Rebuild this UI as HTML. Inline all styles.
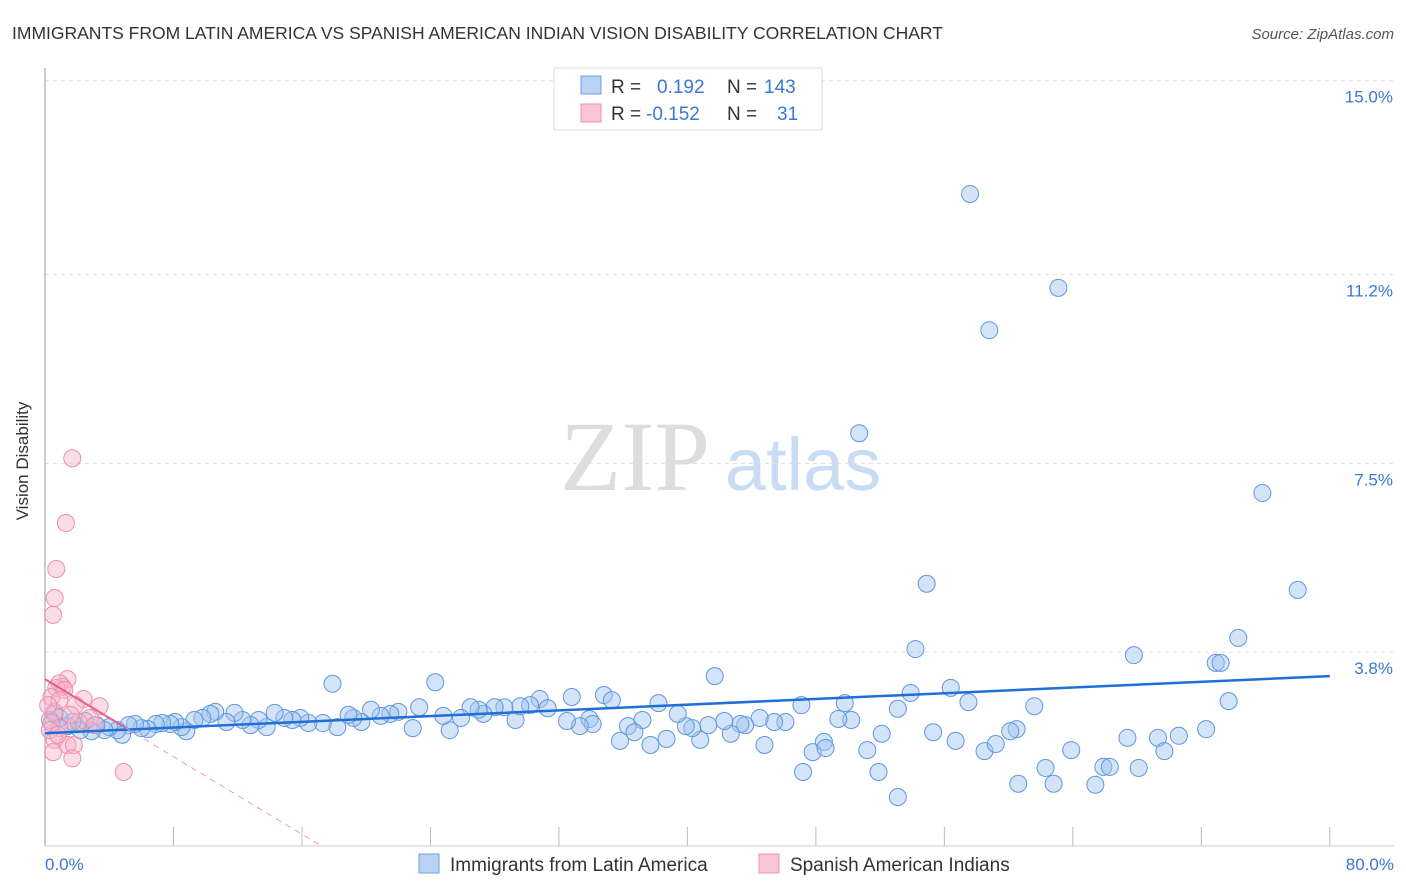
<!DOCTYPE html>
<html><head><meta charset="utf-8"><style>
body{margin:0;background:#fff;font-family:"Liberation Sans",sans-serif;}
svg{display:block}
</style></head><body>
<svg width="1406" height="892" xmlns="http://www.w3.org/2000/svg">
<text x="12" y="39" font-size="17.5" fill="#333">IMMIGRANTS FROM LATIN AMERICA VS SPANISH AMERICAN INDIAN VISION DISABILITY CORRELATION CHART</text>
<text x="1394" y="39" font-size="15" fill="#555" font-style="italic" text-anchor="end">Source: ZipAtlas.com</text>
<g>
<text x="635" y="490" font-size="100" font-family="Liberation Serif,serif" fill="#ddd" text-anchor="middle">ZIP</text>
<text x="803" y="490" font-size="74" fill="#c9dcf3" text-anchor="middle">atlas</text>
</g>
<g id="grid"></g>
<line x1="45" y1="68" x2="45" y2="846" stroke="#999" stroke-width="1"/>
<line x1="45" y1="846" x2="1394" y2="846" stroke="#ccc" stroke-width="1"/>
<text x="22" y="455" font-size="17" fill="#333" text-anchor="middle" transform="rotate(-90 28 455)">Vision Disability</text>
<text x="45" y="870" font-size="17" fill="#3a78d4">0.0%</text>
<text x="1394" y="870" font-size="17" fill="#3a78d4" text-anchor="end">80.0%</text>
<g id="pts"></g>
<g id="trend"></g>
<g>
<rect x="554" y="68" width="268" height="62" fill="#fff" stroke="#ddd"/>
<rect x="581" y="76" width="20" height="18" fill="#b9d3f4" stroke="#6fa0e0"/>
<rect x="581" y="104" width="20" height="18" fill="#f9c6d5" stroke="#eb93ae"/>
<text x="611" y="93" font-size="19" fill="#333">R =</text>
<text x="657" y="93" font-size="19" fill="#3a78d4">0.192</text>
<text x="727" y="93" font-size="19" fill="#333">N =</text>
<text x="764" y="93" font-size="19" fill="#3a78d4">143</text>
<text x="611" y="120" font-size="19" fill="#333">R =</text>
<text x="646" y="120" font-size="19" fill="#3a78d4">-0.152</text>
<text x="727" y="120" font-size="19" fill="#333">N =</text>
<text x="777" y="120" font-size="19" fill="#3a78d4">31</text>
</g>
<g>
<rect x="419" y="854" width="20" height="19" fill="#b9d3f4" stroke="#6fa0e0"/>
<text x="450" y="871" font-size="19" fill="#333">Immigrants from Latin America</text>
<rect x="759" y="854" width="20" height="19" fill="#f9c6d5" stroke="#eb93ae"/>
<text x="790" y="871" font-size="19" fill="#333">Spanish American Indians</text>
</g>
</svg>
<script>
const yTicks=[3.8,7.5,11.2,15.0];
const yTickLabels=["3.8%","7.5%","11.2%","15.0%"];
const xTicks=[0,8,16,24,32,40,48,56,64,72,80];
const blueX=[57.6,63.1,58.8,50.7,75.8,54.9,78.0,74.3,54.2,67.8,72.9,73.2,41.7,17.9,24.3,56.4,53.9,34.8,73.7,32.8,30.8,35.3,38.2,49.8,57.5,61.6,53.1,47.1,
35.8,37.7,40.8,38.7,44.8,47.2,47.8,48.5,48.6,51.2,51.9,52.1,53.1,55.3,56.7,58.5,59.2,60.6,62.3,62.8,63.9,65.4,65.9,66.3,67.4,68.1,69.3,69.7,70.6,72.3,60.5,60.1,
50.2,49.4,46.1,45.4,44.5,43.6,43.3,42.7,42.3,41.3,40.3,39.9,39.4,37.2,36.3,36.7,33.9,34.1,33.3,32.5,31.3,29.3,30.2,29.6,28.6,28.0,27.3,27.0,26.5,25.9,25.2,24.8,23.3,22.9,22.0,21.5,20.9,20.3,19.7,19.2,18.9,18.2,17.3,16.4,15.9,15.4,14.9,14.3,13.8,13.3,12.8,12.3,11.8,11.3,10.6,10.3,9.8,9.3,8.8,8.5,8.1,7.8,7.3,6.9,6.4,6.0,5.6,5.2,4.8,4.5,4.0,3.7,3.2,2.9,2.5,2.2,1.7,1.4,0.9,0.6,0.4];
const blueY=[12.78,10.94,10.11,8.09,6.92,5.14,5.02,4.08,3.86,3.74,3.59,3.59,3.33,3.18,3.21,3.10,3.00,2.96,2.84,2.92,2.88,2.86,2.80,2.80,2.82,2.74,2.69,2.76,
2.06,1.98,2.08,2.10,1.98,1.45,1.84,2.04,1.92,1.88,1.45,2.20,0.96,2.23,2.06,1.86,2.00,1.22,1.53,1.22,1.88,1.20,1.55,1.55,2.12,1.53,2.12,1.86,2.16,2.29,2.29,2.25,
2.47,2.49,2.43,2.43,2.51,2.37,2.39,2.20,2.45,2.37,2.31,2.35,2.59,2.47,2.35,2.23,2.49,2.39,2.35,2.45,2.70,2.47,2.76,2.74,2.72,2.72,2.59,2.67,2.72,2.51,2.27,2.55,2.72,2.31,2.63,2.59,2.55,2.67,2.43,2.51,2.57,2.33,2.41,2.41,2.51,2.47,2.51,2.61,2.33,2.47,2.37,2.47,2.61,2.43,2.63,2.59,2.51,2.47,2.25,2.33,2.43,2.39,2.41,2.39,2.29,2.31,2.39,2.37,2.18,2.27,2.33,2.27,2.37,2.25,2.45,2.27,2.43,2.35,2.51,2.59,2.41];
const pinkX=[1.7,1.3,0.7,0.6,0.5,1.4,1.1,0.7,0.9,0.4,2.4,3.4,1.9,0.6,0.3,0.9,2.1,0.6,1.4,1.8,0.5,1.7,4.9,1.2,0.3,0.9,1.6,2.8,0.2,0.8,3.1];
const pinkY=[7.60,6.33,5.43,4.86,4.53,3.27,3.12,3.10,3.19,2.92,2.88,2.74,2.76,2.63,2.47,2.31,2.43,2.08,1.98,1.98,1.84,1.72,1.45,3.06,2.27,2.86,2.57,2.51,2.76,2.18,2.37];
const blueTrend=[2.21,3.33];
const pinkTrend=[3.27,-0.19];
const NS="http://www.w3.org/2000/svg";
const X=v=>45+v*16.06, Y=v=>846-v*51.02;
function mk(t,a,p){const e=document.createElementNS(NS,t);for(const k in a)e.setAttribute(k,a[k]);p.appendChild(e);return e;}
const grid=document.getElementById('grid');
yTicks.forEach((t,i)=>{
 const l=mk('line',{x1:45,x2:1394,y1:Y(t),y2:Y(t),stroke:'#ddd','stroke-dasharray':'4,4'},grid);
 
 
 const tx=mk('text',{x:1393,y:Y(t)+22,'font-size':17,fill:'#3a78d4','text-anchor':'end'},grid);
 tx.textContent=yTickLabels[i];
 
 
});
xTicks.forEach(t=>{
 const l=mk('line',{x1:X(t),x2:X(t),y1:827,y2:846,stroke:'#bbb'},grid);
 
 
});
const pts=document.getElementById('pts');
blueX.forEach((x,i)=>{
 const c=mk('circle',{cx:X(x),cy:Y(blueY[i]),r:8.5,fill:'rgba(160,196,240,0.45)',stroke:'#5f97de','stroke-width':1},pts);
 
 
});
pinkX.forEach((x,i)=>{
 const c=mk('circle',{cx:X(x),cy:Y(pinkY[i]),r:8.5,fill:'rgba(247,180,201,0.45)',stroke:'#eb8fac','stroke-width':1},pts);
 
 
});
const tr=document.getElementById('trend');
const bl=mk('line',{x1:X(0),y1:Y(blueTrend[0]),x2:X(80),y2:Y(blueTrend[1]),stroke:'#1f6fd6','stroke-width':2.5},tr);


const pe=-pinkTrend[0]/pinkTrend[1];
const ps=mk('line',{x1:X(0),y1:Y(pinkTrend[0]),x2:X(5),y2:Y(pinkTrend[0]+5*pinkTrend[1]),stroke:'#e8608a','stroke-width':2},tr);


const pd=mk('line',{x1:X(5),y1:Y(pinkTrend[0]+5*pinkTrend[1]),x2:X(pe),y2:Y(0),stroke:'#e8a0b8','stroke-width':1,'stroke-dasharray':'6,5'},tr);


</script>
</body></html>
